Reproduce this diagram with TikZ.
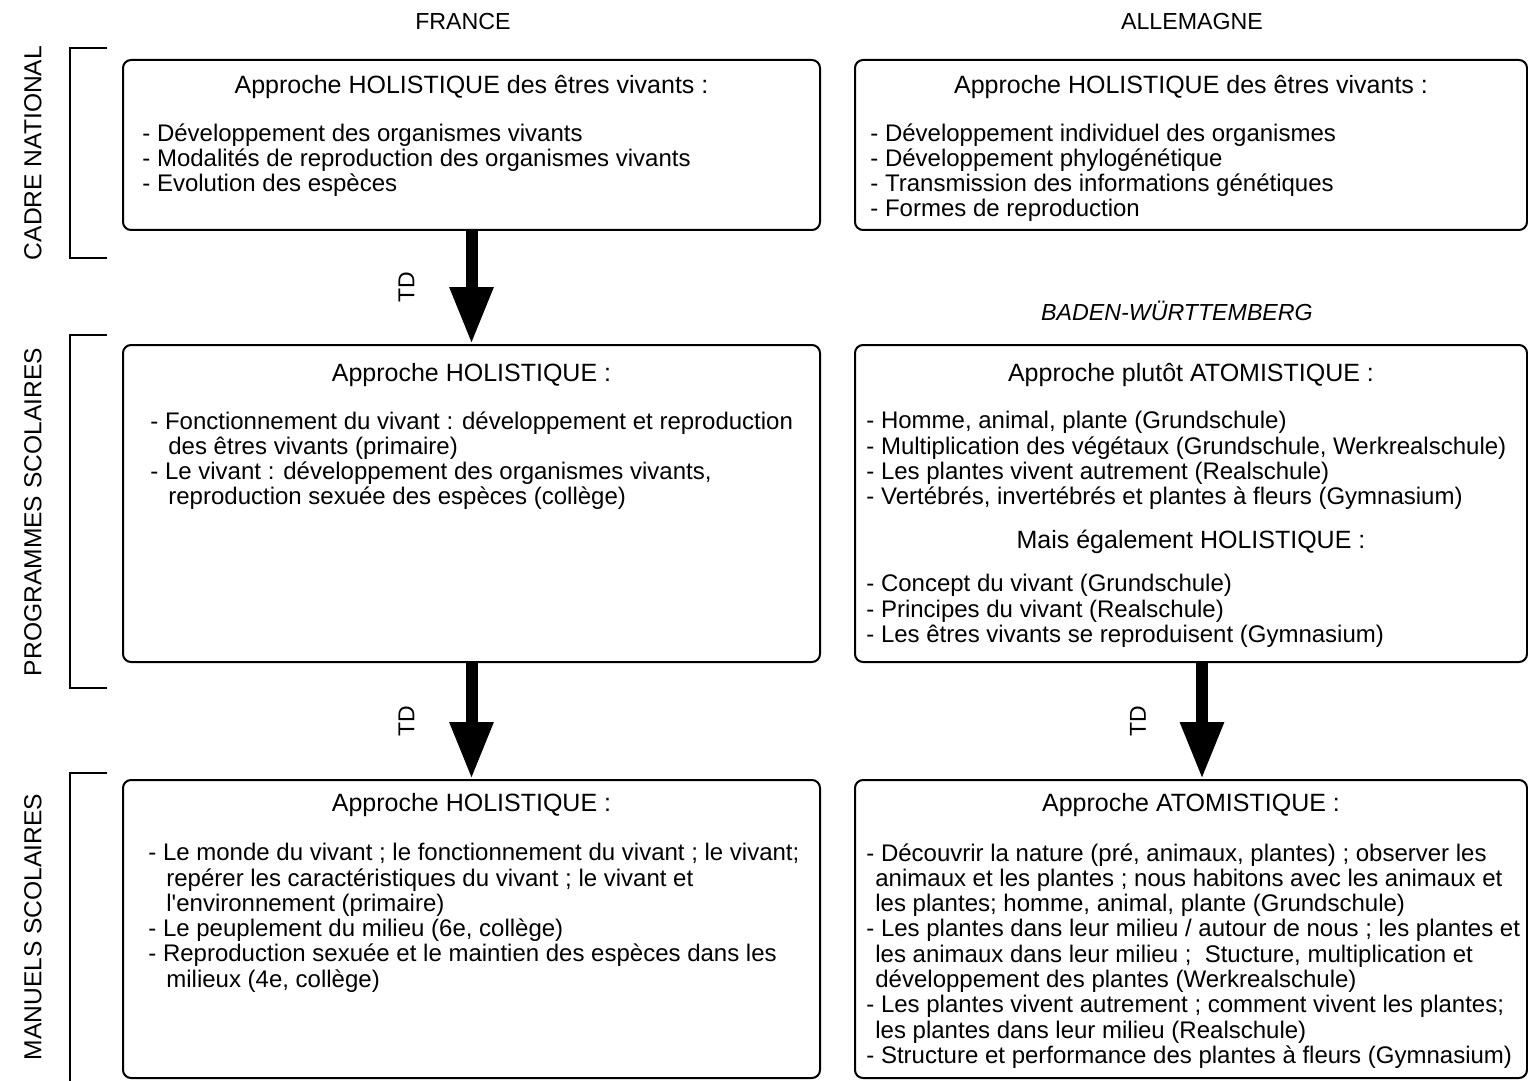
\documentclass[tikz,border=0pt]{standalone}
\usepackage{fontspec}
\setmainfont{Liberation Sans}
\usetikzlibrary{arrows.meta}

\begin{document}
\begin{tikzpicture}[x=0.5pt, y=-0.5pt,
    every node/.style={font=\fontsize{12}{12.65}\selectfont},
    cadre/.style={draw, line width=1pt, rounded corners=4pt, minimum height=#1},
    gauche/.style={minimum width=348.5pt},
    droite/.style={minimum width=336pt},
    entete/.style={inner sep=0pt, font=\fontsize{11.6}{13}\selectfont},
    titre/.style={inner sep=0pt, font=\fontsize{12.5}{13}\selectfont},
    liste/.style={anchor=north west, align=left, inner sep=0pt},
    niveau/.style={rotate=90, inner sep=0pt, font=\fontsize{12.3}{13}\selectfont},
    td/.style={rotate=90, inner sep=0pt, font=\fontsize{11.5}{13}\selectfont},
    fleche/.style={line width=6pt, -{Triangle[length=28.5pt, width=20.5pt]}},
    accolade/.style={line width=1pt}]
    \useasboundingbox (0,0) rectangle (1528,1081);

    % En-tetes des colonnes
    \node[entete] (fr) at (463,22) {FRANCE};
    \node[entete] (de) at (1192,22) {ALLEMAGNE};
    \node[entete] (bw) at (1177,311) {\itshape BADEN-WÜRTTEMBERG};

    % Niveaux (a gauche)
    \draw[accolade] (107,48) -- (70,48) -- (70,258) -- (107,258);
    \draw[accolade] (107,335) -- (70,335) -- (70,688) -- (107,688);
    \draw[accolade] (107,773) -- (70,773) -- (70,1081);
    \node[niveau] (n1) at (33,153) {CADRE NATIONAL};
    \node[niveau] (n2) at (33,512) {PROGRAMMES SCOLAIRES};
    \node[niveau] (n3) at (33,927) {MANUELS SCOLAIRES};

    % Cadres France
    \node[cadre=85pt, gauche] (fr1) at (471.5,145) {};
    \node[cadre=158.5pt, gauche] (fr2) at (471.5,503.5) {};
    \node[cadre=149pt, gauche] (fr3) at (471.5,929) {};

    % Cadres Allemagne
    \node[cadre=85pt, droite] (de1) at (1191,145) {};
    \node[cadre=158.5pt, droite] (de2) at (1191,503.5) {};
    \node[cadre=149pt, droite] (de3) at (1191,929) {};

    % Textes France
    \node[titre] (fr1t) at (471.5,87) {Approche HOLISTIQUE des êtres vivants :};
    \node[liste] (fr1l) at (142,123) {- Développement des organismes vivants\\
        - Modalités de reproduction des organismes vivants\\
        - Evolution des espèces};
    \node[titre] (fr2t) at (471.5,375) {Approche HOLISTIQUE :};
    \node[liste] (fr2l) at (150,411) {- Fonctionnement du vivant : développement et reproduction\\
        \hspace{9pt}des êtres vivants (primaire)\\
        - Le vivant : développement des organismes vivants,\\
        \hspace{9pt}reproduction sexuée des espèces (collège)};
    \node[titre] (fr3t) at (471.5,805) {Approche HOLISTIQUE :};
    \node[liste] (fr3l) at (148,843) {- Le monde du vivant ; le fonctionnement du vivant ; le vivant;\\
        \hspace{9pt}repérer les caractéristiques du vivant ; le vivant et\\
        \hspace{9pt}l\textquotesingle environnement (primaire)\\
        - Le peuplement du milieu (6e, collège)\\
        - Reproduction sexuée et le maintien des espèces dans les\\
        \hspace{9pt}milieux (4e, collège)};

    % Textes Allemagne
    \node[titre] (de1t) at (1191,87) {Approche HOLISTIQUE des êtres vivants :};
    \node[liste] (de1l) at (870,123) {- Développement individuel des organismes\\
        - Développement phylogénétique\\
        - Transmission des informations génétiques\\
        - Formes de reproduction};
    \node[titre] (de2t) at (1191,375) {Approche plutôt ATOMISTIQUE :};
    \node[liste] (de2l) at (866,411) {- Homme, animal, plante (Grundschule)\\
        - Multiplication des végétaux (Grundschule, Werkrealschule)\\
        - Les plantes vivent autrement (Realschule)\\
        - Vertébrés, invertébrés et plantes à fleurs (Gymnasium)};
    \node[titre] (de2m) at (1191,542) {Mais également HOLISTIQUE :};
    \node[liste] (de2h) at (866,574) {- Concept du vivant (Grundschule)\\
        - Principes du vivant (Realschule)\\
        - Les êtres vivants se reproduisent (Gymnasium)};
    \node[titre] (de3t) at (1191,805) {Approche ATOMISTIQUE :};
    \node[liste] (de3l) at (866,843) {- Découvrir la nature (pré, animaux, plantes) ; observer les\\
        \hspace{4.5pt}animaux et les plantes ; nous habitons avec les animaux et\\
        \hspace{4.5pt}les plantes; homme, animal, plante (Grundschule)\\
        - Les plantes dans leur milieu / autour de nous ; les plantes et\\
        \hspace{4.5pt}les animaux dans leur milieu ;\ \ Stucture, multiplication et\\
        \hspace{4.5pt}développement des plantes (Werkrealschule)\\
        - Les plantes vivent autrement ; comment vivent les plantes;\\
        \hspace{4.5pt}les plantes dans leur milieu (Realschule)\\
        - Structure et performance des plantes à fleurs (Gymnasium)};

    % Transpositions didactiques
    \draw[fleche] (fr1.south) -- node[midway, xshift=-32.5pt, td] {TD} (fr2.north);
    \draw[fleche] (fr2.south) -- node[midway, xshift=-32.5pt, td] {TD} (fr3.north);
    \draw[fleche] ([xshift=5.5pt]de2.south) -- node[midway, xshift=-32pt, td] {TD} ([xshift=5.5pt]de3.north);
\end{tikzpicture}
\end{document}
